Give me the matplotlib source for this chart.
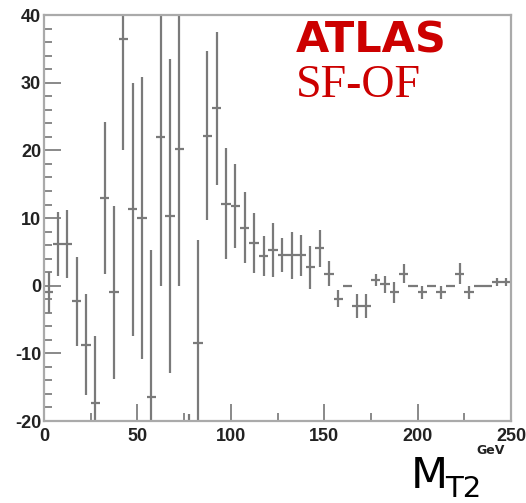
import matplotlib
matplotlib.use('Agg')
import matplotlib.pyplot as plt
from matplotlib.ticker import MultipleLocator
import numpy as np

plt.rcParams['axes.unicode_minus'] = False

# SF-OF subtracted M_T2 distribution, 5 GeV bins from 0 to 250 GeV
bin_lo = np.arange(0, 250, 5)
values = [-1.0, 6.2, 6.2, -2.3, -8.7, -17.3, 13.0, -1.0, 36.5, 11.3,
          10.0, -16.5, 22.0, 10.3, 20.2, -45.0, -8.5, 22.2, 26.2, 12.1,
          11.8, 8.6, 6.3, 4.4, 5.3, 4.5, 4.5, 4.5, 2.7, 5.5,
          1.8, -1.9, 0.0, -3.0, -3.0, 0.9, 0.2, -1.0, 1.8, 0.0,
          -1.0, 0.0, -1.0, 0.0, 1.8, -1.0, 0.0, 0.0, 0.5, 0.5]
errors = [3.0, 4.7, 5.0, 6.6, 7.5, 9.8, 11.2, 12.8, 16.5, 18.7,
          20.8, 21.8, 22.0, 23.2, 20.2, 26.0, 15.2, 12.5, 11.3, 8.2,
          6.2, 5.3, 4.4, 3.0, 4.0, 2.5, 3.5, 3.0, 3.2, 2.7,
          1.8, 1.3, 0.0, 1.7, 1.7, 0.9, 1.3, 1.6, 1.4, 0.0,
          1.0, 0.0, 0.9, 0.0, 1.5, 0.9, 0.0, 0.0, 0.6, 0.6]
bin_w = 5.0

fig = plt.figure(figsize=(5.26, 5.03), dpi=100)
ax = fig.add_axes([0.0837, 0.163, 0.8878, 0.807])

centers = bin_lo + bin_w / 2
ax.errorbar(centers, values, xerr=bin_w / 2, yerr=errors, fmt='none',
            ecolor='#7a7a7a', elinewidth=1.6, capsize=0)

ax.set_xlim(0, 250)
ax.set_ylim(-20, 40)
ax.xaxis.set_major_locator(MultipleLocator(50))
ax.xaxis.set_minor_locator(MultipleLocator(25))
ax.yaxis.set_major_locator(MultipleLocator(10))
ax.yaxis.set_minor_locator(MultipleLocator(2))
ax.tick_params(which='both', direction='in', colors='#808080', width=1.3,
               labelcolor='#222222', labelsize=13)
ax.tick_params(which='major', length=12)
ax.tick_params(which='minor', length=6)
ax.tick_params(axis='x', pad=5)
ax.tick_params(axis='y', pad=2)
for lab in ax.get_xticklabels() + ax.get_yticklabels():
    lab.set_fontweight('bold')
    lab.set_family('Liberation Sans')
for sp in ax.spines.values():
    sp.set_color('#aaaaaa')
    sp.set_linewidth(1.6)

ax.text(0.54, 0.99, 'ATLAS', transform=ax.transAxes, color='#cc0000',
        fontsize=31, fontweight='bold', family='DejaVu Sans', va='top', ha='left')
ax.text(0.54, 0.878, 'SF-OF', transform=ax.transAxes, color='#cc0000',
        fontsize=33, family='Liberation Serif', va='top', ha='left')

# axis unit and title sit below the frame, as in the original slide
fig.text(0.932, 0.104, 'GeV', fontsize=9, fontweight='bold', color='#222222',
         ha='center', va='center')
fig.text(0.781, 0.012, 'M', fontsize=31, color='black', ha='left', va='bottom')
fig.text(0.846, 0.0, 'T2', fontsize=21, color='black', ha='left', va='bottom')

fig.savefig('out.png', dpi=100)
